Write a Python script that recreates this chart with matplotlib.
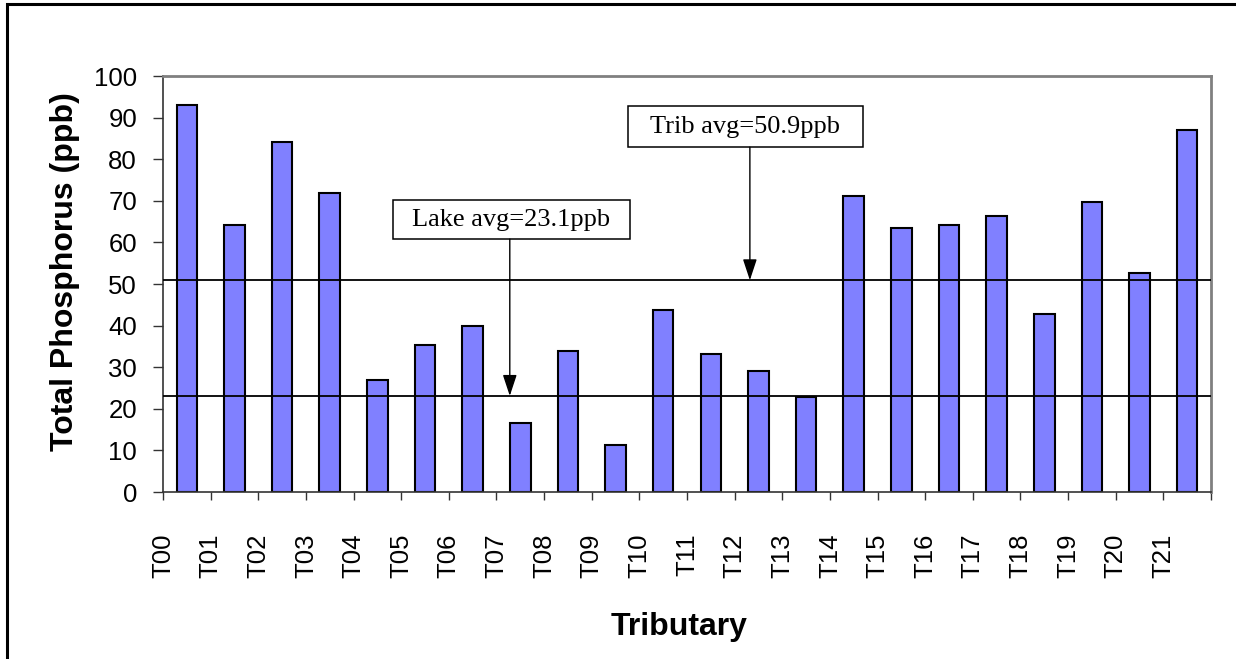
import numpy as np
import matplotlib
matplotlib.use("Agg")
import matplotlib.pyplot as plt
from matplotlib.patches import Rectangle

# total phosphorus by tributary (ppb)
tribs = ["T00", "T01", "T02", "T03", "T04", "T05", "T06", "T07", "T08", "T09", "T10",
         "T11", "T12", "T13", "T14", "T15", "T16", "T17", "T18", "T19", "T20", "T21"]
tp = [93.1, 64.1, 84.1, 71.8, 26.9, 35.3, 40.0, 16.6, 33.9, 11.3, 43.7,
      33.2, 29.1, 22.9, 71.1, 63.5, 64.1, 66.3, 42.8, 69.7, 52.6, 86.9]
trib_avg = 50.9
lake_avg = 23.1

plt.rcParams['font.family'] = ['Liberation Sans', 'DejaVu Sans']

fig = plt.figure(figsize=(12.36, 6.59), dpi=100)
ax = fig.add_axes([163/1236, 1 - 492/659, 1048/1236, 416/659])

x = np.arange(len(tribs))
ax.bar(x, tp, width=0.43, color='#8080FF', edgecolor='black', linewidth=1.5, zorder=2)

# average lines
ax.axhline(trib_avg, color='black', lw=1.3, zorder=3)
ax.axhline(lake_avg, color='black', lw=1.3, zorder=3)

ax.set_xlim(-0.5, len(tribs) - 0.5)
ax.set_ylim(0, 100)
ax.set_yticks(np.arange(0, 101, 10))
ax.set_xticks(np.arange(-0.5, len(tribs), 1))
ax.set_xticklabels(tribs + [""])
ax.tick_params(axis='x', length=6, width=1, pad=24, labelsize=18.5, labelrotation=90, color='#333333')
ax.tick_params(axis='y', length=7.2, width=1, pad=11.5, labelsize=18.5, color='#333333')

for s in ['left', 'bottom']:
    ax.spines[s].set_color('#333333')
    ax.spines[s].set_linewidth(1.2)
for s in ['top', 'right']:
    ax.spines[s].set_color('#808080')
    ax.spines[s].set_linewidth(2)

ax.set_ylabel("Total Phosphorus (ppb)", fontsize=23, fontweight='bold')
ax.yaxis.set_label_coords(-0.079, 0.529)
ax.set_xlabel("Tributary", fontsize=23, fontweight='bold')
ax.xaxis.set_label_coords(0.492, -0.288)

# label boxes with arrows down to the lines
def avg_box(x0, x1, y0, y1, ax_x, yline, txt):
    ax.add_patch(Rectangle((x0, y0), x1 - x0, y1 - y0, facecolor='white',
                           edgecolor='black', lw=1.1, zorder=4, clip_on=False))
    ax.text((x0 + x1) / 2, (y0 + y1) / 2, txt, ha='center', va='center',
            family=['Liberation Serif', 'DejaVu Serif'], fontsize=19, zorder=5)
    ax.annotate("", xy=(ax_x, yline), xytext=(ax_x, y0),
                arrowprops=dict(arrowstyle='-|>,head_length=1.3,head_width=0.43',
                                color='black', lw=1.0, shrinkA=0, shrinkB=0,
                                mutation_scale=10), zorder=4)

avg_box(9.26, 14.19, 82.9, 92.8, 11.82, trib_avg, f"Trib avg={trib_avg}ppb")
avg_box(4.33, 9.30, 60.8, 70.2, 6.78, lake_avg, f"Lake avg={lake_avg}ppb")

# outer frame
fig.patches.append(Rectangle((7/1236, -0.05), 1.1, 1 - 4/659 + 0.05, transform=fig.transFigure,
                             fill=False, edgecolor='black', lw=2.2, clip_on=False))

fig.savefig("out.png", dpi=100)
